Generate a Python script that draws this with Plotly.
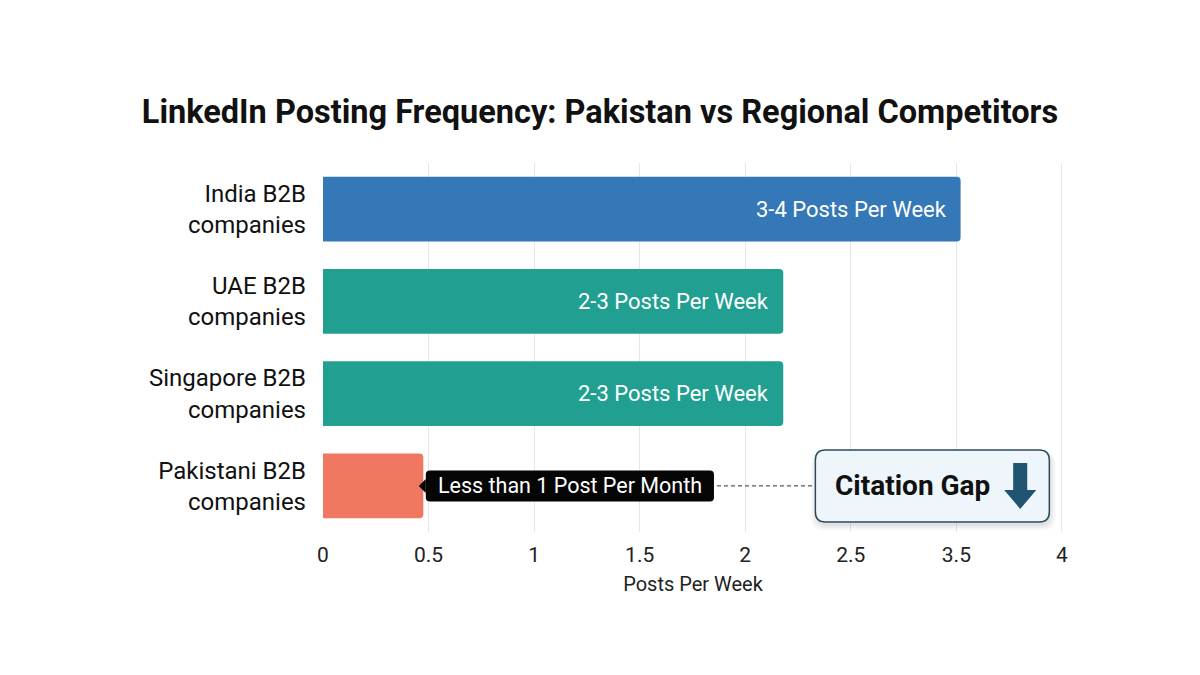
import plotly.graph_objects as go

# ---- data ----
categories = ["India B2B<br>companies", "UAE B2B<br>companies",
              "Singapore B2B<br>companies", "Pakistani B2B<br>companies"]
values = [3.02, 2.18, 2.18, 0.475]
bar_labels = ["3-4 Posts Per Week", "2-3 Posts Per Week", "2-3 Posts Per Week", ""]
bar_colors = ["#3478b7", "#21a091", "#21a091", "#f07860"]
tick_vals = [0, 0.5, 1, 1.5, 2, 2.5, 3, 3.5]
tick_text = ["0", "0.5", "1", "1.5", "2", "2.5", "3.5", "4"]
callout_text = "Less than 1 Post Per Month"
gap_text = "Citation Gap"

FONT = "Roboto"
XPX = 737 / 3.505  # pixels per x unit
YPX = 369 / 4.0    # pixels per category


def dx(p):
    return p / XPX


def dy(p):
    return p / YPX


def rounded_rect(x0, x1, y0, y1, r):
    rx, ry = dx(r), dy(r)
    return (f"M{x0+rx},{y0} L{x1-rx},{y0} Q{x1},{y0} {x1},{y0+ry} "
            f"L{x1},{y1-ry} Q{x1},{y1} {x1-rx},{y1} L{x0+rx},{y1} "
            f"Q{x0},{y1} {x0},{y1-ry} L{x0},{y0+ry} Q{x0},{y0} {x0+rx},{y0} Z")


fig = go.Figure()
fig.add_trace(go.Bar(
    x=values, y=categories, orientation="h",
    marker=dict(color=bar_colors, line=dict(width=0), cornerradius=4),
    hoverinfo="skip", showlegend=False,
))

annotations = []
for v, c, t in zip(values, categories, bar_labels):
    if t:
        annotations.append(dict(x=v, y=c, xref="x", yref="y", text=t,
                                showarrow=False, xanchor="right", xshift=-12,
                                font=dict(family=FONT, size=22, color="white")))

pak = 3
shapes = []
# tooltip callout for Pakistan bar
tx0 = values[pak] + dx(2.5)
tx1 = tx0 + dx(287)
ty0, ty1 = pak - dy(15.5), pak + dy(15.5)
shapes.append(dict(type="path", xref="x", yref="y",
                   path=rounded_rect(tx0, tx1, ty0, ty1, 4),
                   fillcolor="#050505", line=dict(width=0), layer="above"))
shapes.append(dict(type="path", xref="x", yref="y",
                   path=f"M{tx0},{pak-dy(7)} L{tx0-dx(7)},{pak} L{tx0},{pak+dy(7)} Z",
                   fillcolor="#050505", line=dict(width=0), layer="above"))
annotations.append(dict(x=(tx0 + tx1) / 2, y=pak, xref="x", yref="y",
                        text=callout_text, showarrow=False,
                        font=dict(family=FONT, size=21.5, color="white")))

# dashed connector
bx0 = tx1 + dx(101)
bx1 = bx0 + dx(233)
shapes.append(dict(type="line", xref="x", yref="y", x0=tx1 + dx(3), x1=bx0,
                   y0=pak, y1=pak, line=dict(color="#333333", width=1, dash="4px,3px"),
                   layer="above"))

# citation gap box with soft shadow
by0, by1 = pak - dy(36), pak + dy(36)
for k, a in [(7, 0.04), (5, 0.05), (3, 0.06)]:
    shapes.append(dict(type="path", xref="x", yref="y",
                       path=rounded_rect(bx0 - dx(k - 3), bx1 + dx(k - 1), by0 + dy(2),
                                         by1 + dy(k + 1), 12),
                       fillcolor=f"rgba(40,60,80,{a})", line=dict(width=0), layer="above"))
shapes.append(dict(type="path", xref="x", yref="y",
                   path=rounded_rect(bx0, bx1, by0, by1, 10),
                   fillcolor="#eef6fc", line=dict(color="#2d4b5c", width=1.5),
                   layer="above"))
annotations.append(dict(x=bx0 + dx(97), y=pak, xref="x", yref="y",
                        text=f"<b>{gap_text}</b>", showarrow=False,
                        font=dict(family=FONT, size=28, color="#111111")))
# down arrow
ax = bx0 + dx(204)
ay_top, ay_head, ay_tip = pak - dy(23), pak + dy(4), pak + dy(23)
sw, hw = dx(7), dx(16)
shapes.append(dict(type="path", xref="x", yref="y",
                   path=(f"M{ax-sw},{ay_top} L{ax+sw},{ay_top} L{ax+sw},{ay_head} "
                         f"L{ax+hw},{ay_head} L{ax},{ay_tip} L{ax-hw},{ay_head} "
                         f"L{ax-sw},{ay_head} Z"),
                   fillcolor="#1f5570", line=dict(width=0), layer="above"))

fig.update_layout(
    width=1200, height=675,
    margin=dict(l=315, r=145, t=155, b=151),
    paper_bgcolor="white", plot_bgcolor="white",
    bargap=0.3,
    title=dict(text="<b>LinkedIn Posting Frequency: Pakistan vs Regional Competitors</b>",
               x=(600 - 8) / 1200, xanchor="center", y=1 - 104 / 675, yanchor="middle",
               yref="container", font=dict(family=FONT, size=32.5, color="#111111")),
    font=dict(family=FONT, color="#222222"),
    xaxis=dict(range=[0, 3.505], tickvals=tick_vals, ticktext=tick_text,
               showgrid=True, gridcolor="#e6e6e6", gridwidth=1, zeroline=False,
               showline=False, ticks="", tickfont=dict(size=21, color="#222222"),
               ticklabelstandoff=8,
               title=dict(text="Posts Per Week", font=dict(size=20, color="#222222"),
                          standoff=10)),
    yaxis=dict(autorange="reversed", showgrid=False, zeroline=False, ticks="",
               tickfont=dict(size=24, color="#111111"), ticklabelstandoff=16),
    shapes=shapes, annotations=annotations,
)

fig.write_html("out.html")
